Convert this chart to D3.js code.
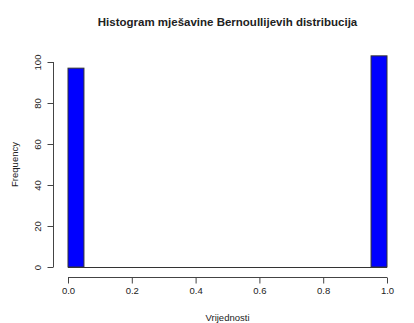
<!DOCTYPE html>
<html>
<head>
<meta charset="utf-8">
<script src="https://cdn.jsdelivr.net/npm/d3@7"></script>
<style>
  html, body { margin: 0; padding: 0; background: #fff; }
  svg { display: block; }
  text { font-family: "Liberation Sans", Arial, sans-serif; fill: #222; }
</style>
</head>
<body>
<svg id="chart" width="414" height="323"></svg>
<script>
// Histogram bins (break points every 0.05) and their counts
const binStarts = [0.00, 0.95];
const binWidth = 0.05;
const counts = [97, 103];
const xTicks = [0, 0.2, 0.4, 0.6, 0.8, 1.0];
const yTicks = [0, 20, 40, 60, 80, 100];

const svg = d3.select("#chart");
const W = 414, H = 323;

const x = d3.scaleLinear().domain([0, 1]).range([68, 387]);
const y = d3.scaleLinear().domain([0, 100]).range([267, 62]);

// Title
svg.append("text")
  .attr("x", (x(0) + x(1)) / 2)
  .attr("y", 26)
  .attr("text-anchor", "middle")
  .attr("font-size", "11.5px")
  .attr("font-weight", "bold")
  .text("Histogram mješavine Bernoullijevih distribucija");

// Bars
svg.append("g").selectAll("rect")
  .data(binStarts.map((s, i) => ({ s, c: counts[i] })))
  .join("rect")
  .attr("x", d => x(d.s))
  .attr("width", d => x(d.s + binWidth) - x(d.s))
  .attr("y", d => y(d.c))
  .attr("height", d => y(0) - y(d.c))
  .attr("fill", "#0000ff")
  .attr("stroke", "#333")
  .attr("stroke-width", 1);

// Baseline under the bars
svg.append("line")
  .attr("x1", x(0)).attr("x2", x(1))
  .attr("y1", y(0) + 0.5).attr("y2", y(0) + 0.5)
  .attr("stroke", "#333");

// X axis
const xAxis = d3.axisBottom(x).tickValues(xTicks).tickFormat(d3.format(".1f")).tickSize(6).tickPadding(4);
const gx = svg.append("g").attr("transform", "translate(0,277.5)").call(xAxis);
gx.select(".domain").attr("d", `M${x(0)},0H${x(1)}`).attr("stroke", "#444");
gx.selectAll(".tick line").attr("stroke", "#444");
gx.selectAll("text").attr("font-size", "9.5px").attr("font-family", "Liberation Sans, Arial, sans-serif").attr("fill", "#222");

// Y axis
const yAxis = d3.axisLeft(y).tickValues(yTicks).tickSize(6).tickPadding(4);
const gy = svg.append("g").attr("transform", "translate(53.5,0)").call(yAxis);
gy.select(".domain").attr("d", `M0,${y(0)}V${y(100)}`).attr("stroke", "#444");
gy.selectAll(".tick line").attr("stroke", "#444");
gy.selectAll("text")
  .attr("font-size", "9.5px")
  .attr("font-family", "Liberation Sans, Arial, sans-serif")
  .attr("fill", "#222")
  .attr("x", null).attr("dy", null)
  .attr("text-anchor", "middle")
  .attr("transform", "translate(-13,0) rotate(-90)");

// Axis titles
svg.append("text")
  .attr("x", (x(0) + x(1)) / 2)
  .attr("y", 321)
  .attr("text-anchor", "middle")
  .attr("font-size", "9.5px")
  .text("Vrijednosti");

svg.append("text")
  .attr("transform", `translate(18,${(y(0) + y(100)) / 2}) rotate(-90)`)
  .attr("text-anchor", "middle")
  .attr("font-size", "9.5px")
  .text("Frequency");
</script>
</body>
</html>
